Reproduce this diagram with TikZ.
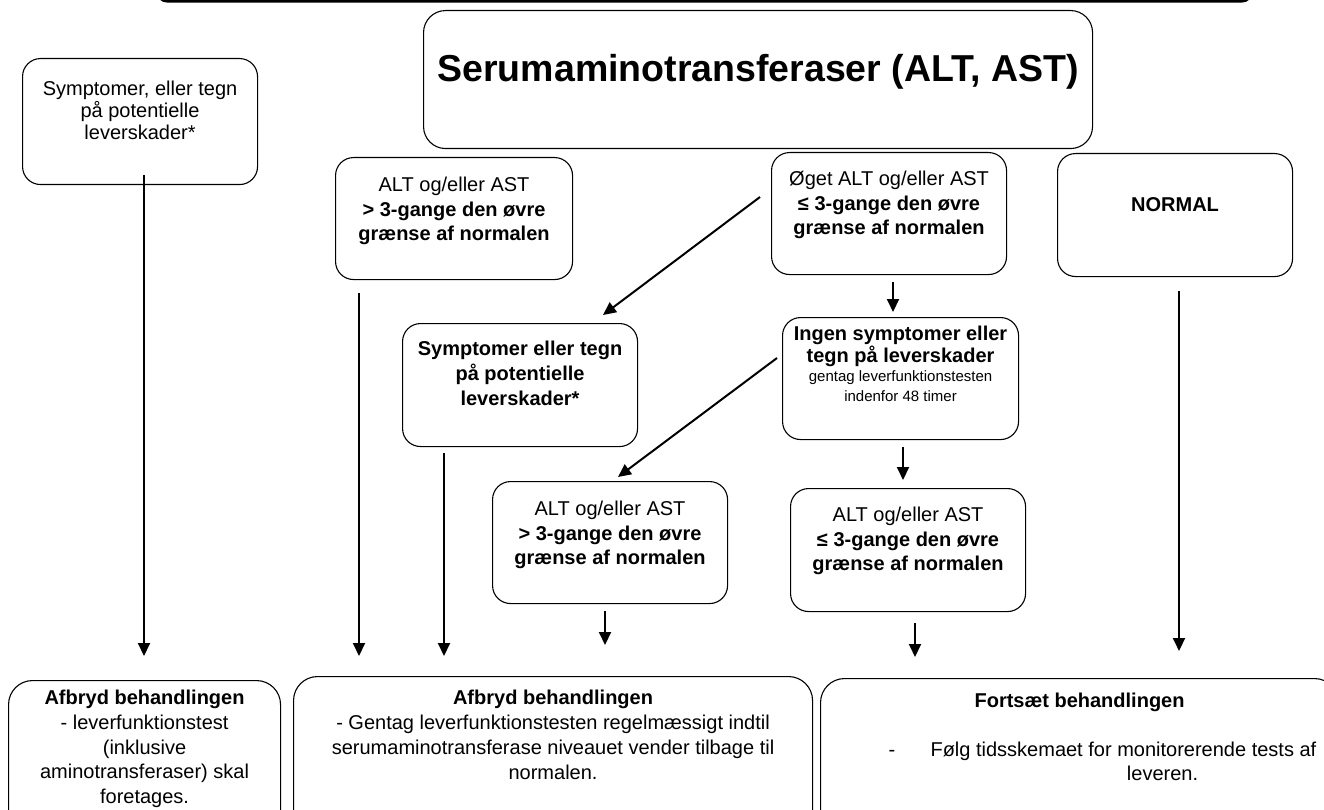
\documentclass[tikz,border=0pt]{standalone}
\usepackage{fontspec}
\setmainfont{Liberation Sans}
\usetikzlibrary{arrows.meta}
% box content: width, height, first baseline, text
\newcommand{\boxtext}[4]{\parbox[c][#2][t]{#1}{\centering\rule{0pt}{#3}#4}}

\begin{document}
\begin{tikzpicture}[x=1pt, y=-1pt,
    boks/.style={draw, line width=1.1pt, rounded corners=18pt,
                 anchor=north west, inner sep=0pt,
                 font=\fontsize{20}{24.5}\selectfont},
    slut/.style={boks, rounded corners=24pt},
    pil/.style={-{Triangle[length=13pt, width=12pt]}, line width=2pt},
]
  \useasboundingbox (0,0) rectangle (1324,810);

  % frame cut off at the top edge
  \draw[line width=2.5pt, rounded corners=12pt] (156,-60) rectangle (1253,1.5);

  \node[boks, rounded corners=22pt] (titel) at (423,10)
    {\boxtext{669pt}{138pt}{71pt}{\fontsize{37.5}{45}\selectfont\bfseries
     Serumaminotransferaser (ALT, AST)}};

  \node[boks] (sympt) at (22,58)
    {\boxtext{235pt}{126pt}{37pt}{\fontsize{20}{22}\selectfont
     Symptomer, eller tegn\\ på potentielle\\ leverskader*}};

  \node[boks] (hoejA) at (335,157)
    {\boxtext{237pt}{122pt}{34pt}{ALT og/eller AST\\
     \textbf{> 3-gange den øvre\\ grænse af normalen}}};

  \node[boks] (oeget) at (771,152)
    {\boxtext{235pt}{122pt}{33pt}{Øget ALT og/eller AST\\
     \textbf{≤ 3-gange den øvre\\ grænse af normalen}}};

  \node[boks] (normal) at (1057,153)
    {\boxtext{235pt}{123pt}{58pt}{\textbf{NORMAL}}};

  \node[boks] (symptB) at (402,323)
    {\boxtext{235pt}{123pt}{32pt}{\bfseries\fontsize{20}{25}\selectfont
     Symptomer eller tegn\\ på potentielle\\ leverskader*}};

  \node[boks] (ingen) at (782,317)
    {\boxtext{236pt}{122pt}{23pt}{{\bfseries\fontsize{20}{20}\selectfont
     Ingen symptomer eller\\ tegn på leverskader\par}
     \fontsize{15}{19.5}\selectfont gentag leverfunktionstesten\\ indenfor 48 timer}};

  \node[boks] (hoejE) at (492,481)
    {\boxtext{235pt}{122pt}{34pt}{ALT og/eller AST\\
     \textbf{> 3-gange den øvre\\ grænse af normalen}}};

  \node[boks] (lavF) at (790,488)
    {\boxtext{235pt}{123pt}{33pt}{ALT og/eller AST\\
     \textbf{≤ 3-gange den øvre\\ grænse af normalen}}};

  % bottom row
  \node[slut] (stopG) at (8,680)
    {\boxtext{272pt}{170pt}{24pt}{\fontsize{20}{24.8}\selectfont
     \textbf{Afbryd behandlingen}\\ - leverfunktionstest\\ (inklusive\\
     aminotransferaser) skal\\ foretages.}};

  \node[slut] (stopH) at (293,676)
    {\boxtext{519pt}{170pt}{28pt}{\fontsize{20}{25}\selectfont
     \textbf{Afbryd behandlingen}\\
     - Gentag leverfunktionstesten regelmæssigt indtil\\
     serumaminotransferase niveauet vender tilbage til\\ normalen.}};

  \node[slut] (fortsaet) at (820,678)
    {\boxtext{518pt}{170pt}{29pt}{\textbf{Fortsæt behandlingen}\\[24pt]
     \makebox[518pt][l]{\hspace*{68pt}\makebox[42pt][l]{-}Følg tidsskemaet for monitorerende tests af}\\
     \makebox[518pt][l]{\hspace*{342pt}\makebox[0pt]{leveren.}}}};

  \draw[pil] ([xshift=122pt, yshift=10pt]sympt.south west)
          -- ([xshift=136pt, yshift=24pt]stopG.north west);
  \draw[pil] ([xshift=24pt, yshift=-13pt]hoejA.south west)
          -- ([xshift=66pt, yshift=20pt]stopH.north west);
  \draw[pil] ([xshift=42pt, yshift=-6pt]symptB.south west)
          -- ([xshift=151pt, yshift=20pt]stopH.north west);
  \draw[pil] ([xshift=113pt, yshift=-7pt]hoejE.south west)
          -- ([xshift=312pt, yshift=31pt]stopH.north west);
  \draw[pil] ([xshift=125pt, yshift=-11pt]lavF.south west)
          -- ([xshift=95pt, yshift=21pt]fortsaet.north west);
  \draw[pil] ([xshift=122pt, yshift=-14pt]normal.south west)
          -- ([xshift=359pt, yshift=27pt]fortsaet.north west);

  \draw[pil] ([xshift=-11pt, yshift=-45pt]oeget.north west)
          -- ([xshift=201pt, yshift=8pt]symptB.north west);
  \draw[pil] ([xshift=122pt, yshift=-7pt]oeget.south west)
          -- ([xshift=111pt, yshift=5pt]ingen.north west);
  \draw[pil] ([xshift=-5pt, yshift=-41pt]ingen.north west)
          -- ([xshift=126pt, yshift=4pt]hoejE.north west);
  \draw[pil] ([xshift=121pt, yshift=-7pt]ingen.south west)
          -- ([xshift=113pt, yshift=8pt]lavF.north west);

\end{tikzpicture}
\end{document}
